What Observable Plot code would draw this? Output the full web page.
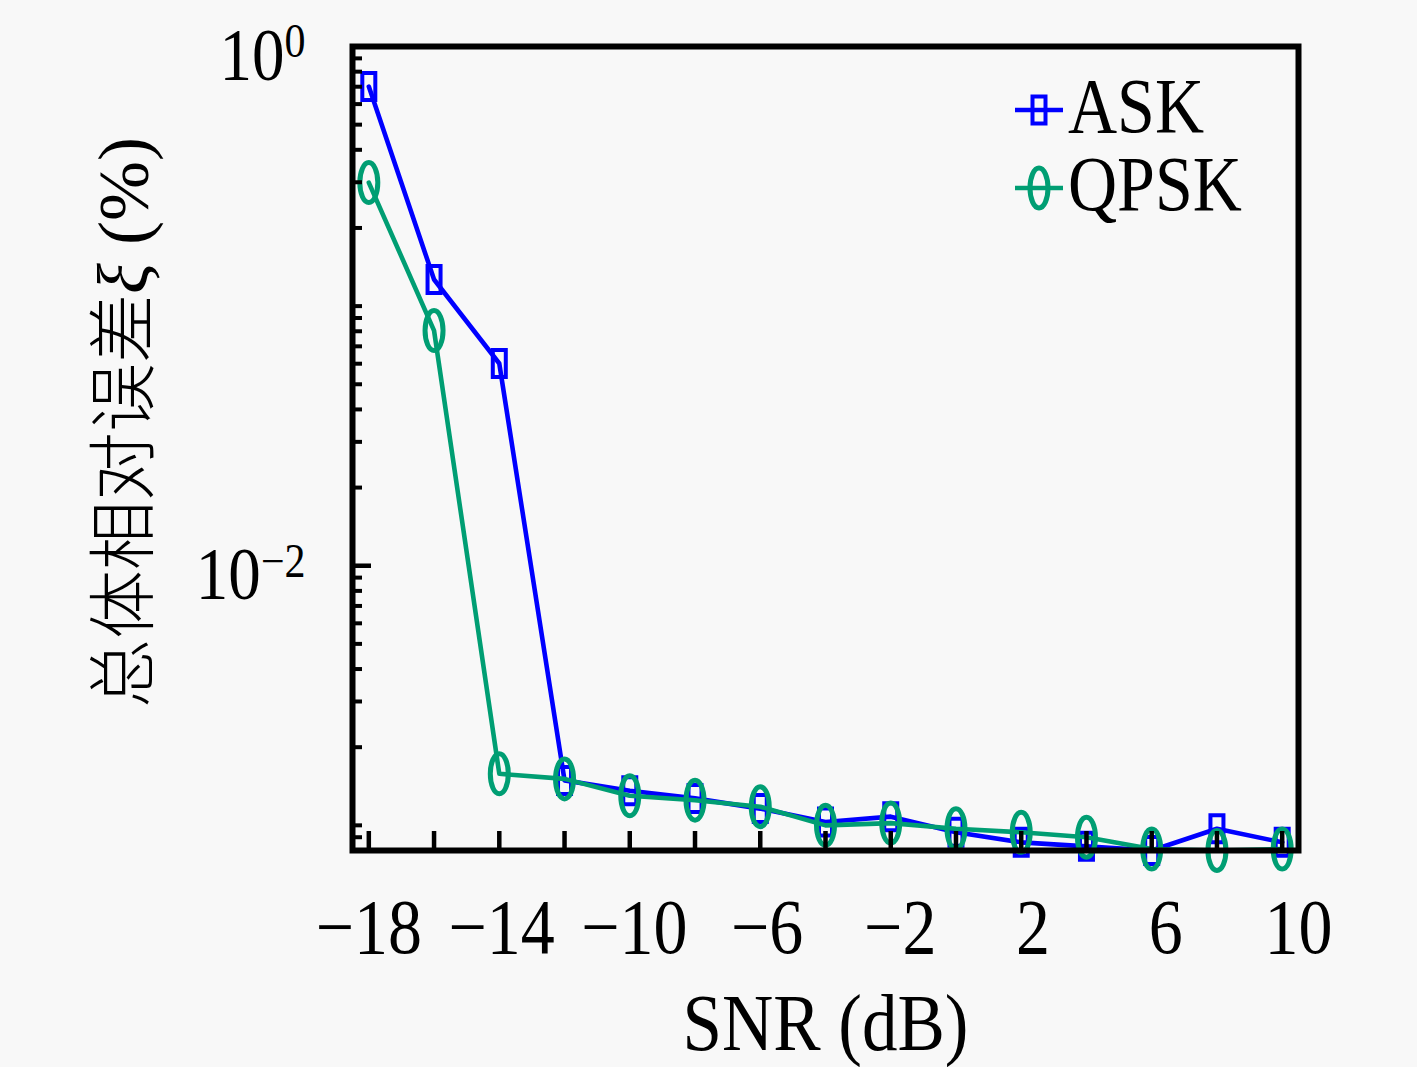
<!DOCTYPE html>
<html><head><meta charset="utf-8">
<script src="https://cdn.jsdelivr.net/npm/d3@7"></script>
<script src="https://cdn.jsdelivr.net/npm/@observablehq/plot@0.6"></script>
<style>
html,body{margin:0;padding:0;background:#f8f8f8;}
#chart{position:relative;width:1417px;height:1067px;}
svg{overflow:visible;}
</style></head><body><div id="chart"></div>
<script>
// ---- data ----
const snr = [-18,-16,-14,-12,-10,-8,-6,-4,-2,0,2,4,6,8,10];
const askErr  = [0.701,0.1266,0.0601,0.00149,0.00136,0.00127,0.00116,0.00103,0.00108,0.00094,0.00086,0.00083,0.00080,0.00097,0.00086];
const qpskErr = [0.299,0.0805,0.00158,0.00151,0.00130,0.00125,0.00118,0.00100,0.00102,0.00097,0.00094,0.00090,0.00081,0.00080,0.00081];
const seriesNames = ["ASK","QPSK"];
const seriesColors = ["#0000ff","#009e73"];
const xTickValues = [-18,-16,-14,-12,-10,-8,-6,-4,-2,0,2,4,6,8,10];
const xTickLabels = [-18,-14,-10,-6,-2,2,6,10];
const xTickLabelPos = [-18,-13.93,-9.86,-5.79,-1.71,2.36,6.43,10.5];
const yMajorTicks = [1,0.01];
const yMajorExponents = ["0","\u22122"];
const yMinorTicks = [0.9,0.8,0.7,0.6,0.5,0.4,0.3,0.2,0.1,0.09,0.08,0.07,0.06,0.05,0.04,0.03,0.02,0.009,0.008,0.007,0.006,0.005,0.004,0.003,0.002,0.001,0.0009];
const xAxisLabel = "SNR (dB)";
const yAxisLabelParts = ["总体相对误差","ξ"," (%)"];

const fmt = v => v < 0 ? "\u2212" + Math.abs(v) : String(v);

// ---- marker symbols ----
const squareSym = {draw(ctx){const w=6.5,h=13.5;ctx.moveTo(-w,-h);ctx.lineTo(w,-h);ctx.lineTo(w,h);ctx.lineTo(-w,h);ctx.closePath();}};
const ellipseSym = {draw(ctx){const rx=9,ry=20,k=0.5523;ctx.moveTo(0,-ry);ctx.bezierCurveTo(k*rx,-ry,rx,-k*ry,rx,0);ctx.bezierCurveTo(rx,k*ry,k*rx,ry,0,ry);ctx.bezierCurveTo(-k*rx,ry,-rx,k*ry,-rx,0);ctx.bezierCurveTo(-rx,-k*ry,-k*rx,-ry,0,-ry);ctx.closePath();}};
const symbols = [squareSym, ellipseSym];
const symbolWidths = [4, 5];

const rows = [askErr, qpskErr].map(arr => snr.map((x,i) => ({x, y: arr[i]})));

const serif = "'Liberation Serif', 'Times New Roman', serif";
const marks = [];
rows.forEach((r,k) => {
  marks.push(Plot.line(r, {x:"x", y:"y", stroke: seriesColors[k], strokeWidth: 4.6}));
  marks.push(Plot.dot(r, {x:"x", y:"y", symbol: symbols[k], stroke: seriesColors[k], strokeWidth: symbolWidths[k], fill: "none"}));
});
marks.push(
  Plot.axisX({ticks: xTickValues, tickSize: -19, tickFormat: () => "", strokeWidth: 4.5, label: null}),
  Plot.text(xTickLabelPos, {x: d => d, frameAnchor: "bottom", lineAnchor: "middle", dy: 78, text: (d,i) => fmt(xTickLabels[i]), fontSize: 68, fontFamily: serif}),
  Plot.axisY({ticks: yMinorTicks, tickSize: -10, tickFormat: () => "", strokeWidth: 4, label: null}),
  Plot.axisY({ticks: yMajorTicks, tickSize: -19, tickFormat: () => "", strokeWidth: 4.5, label: null}),
  Plot.text(yMajorTicks, {y: d => d, frameAnchor: "left", lineAnchor: "middle", dx: -47, dy: 10, textAnchor: "end", text: (d,i) => "10^" + yMajorExponents[i], fontSize: 65, fontFamily: serif}),
  Plot.text([xAxisLabel], {frameAnchor: "bottom", lineAnchor: "middle", textAnchor: "middle", dy: 174, text: d => d, fontSize: 71, fontFamily: serif}),
  Plot.text([yAxisLabelParts.join("")], {frameAnchor: "left", textAnchor: "middle", lineAnchor: "middle", dx: -227, dy: -26, rotate: -90, text: d => d, fontSize: 69, fontFamily: "'Liberation Serif','Noto Sans CJK SC',serif"}),
  Plot.frame({stroke: "black", strokeWidth: 6})
);

const plot = Plot.plot({
  width: 1417, height: 1067,
  marginLeft: 352, marginRight: 119, marginTop: 46, marginBottom: 217,
  style: {background: "transparent", fontFamily: serif, overflow: "visible", color: "black"},
  x: {domain: [-18.5, 10.5]},
  y: {type: "log", domain: [0.0008, 1]},
  marks
});
document.getElementById("chart").appendChild(plot);

const svg = d3.select(plot);
const fullYLabel = yAxisLabelParts.join("");
const stretch = 1.14;
function stretchText(t) {
  const tr = t.attr("transform");
  if (tr != null) {
    if (!tr.includes("rotate")) t.attr("transform", `${tr} scale(1,${stretch})`);
  } else {
    const y = +(t.attr("y") || 0);
    t.attr("transform", `translate(0,${y * (1 - stretch)}) scale(1,${stretch})`);
  }
}
svg.selectAll("text").each(function(){
  const t = d3.select(this);
  const s = t.text();
  if (s.includes("^")) {
    const [base, exp] = s.split("^");
    t.text(null);
    t.append("tspan").text(base);
    t.append("tspan").attr("font-size", 42).attr("dy", -20).text(exp);
    stretchText(t);
  } else if (s === fullYLabel) {
    t.text(null);
    t.append("tspan").attr("font-family", "'Noto Sans CJK SC', sans-serif").attr("font-weight", 300).text(yAxisLabelParts[0]);
    t.append("tspan").attr("font-style", "italic").attr("font-size", 72).text(yAxisLabelParts[1]);
    t.append("tspan").attr("font-size", 72).attr("font-weight", 300).text(yAxisLabelParts[2]);
  } else if (s) {
    stretchText(t);
  }
});
// legend
const legend = svg.append("g").attr("aria-label", "legend");
seriesNames.forEach((name, k) => {
  const g = legend.append("g").attr("transform", `translate(1039,${110 + 78*k})`);
  g.append("line").attr("x1", -24).attr("x2", 24).attr("stroke", seriesColors[k]).attr("stroke-width", 4.6);
  const p = d3.path(); symbols[k].draw(p);
  g.append("path").attr("d", p.toString()).attr("fill", "none").attr("stroke", seriesColors[k]).attr("stroke-width", symbolWidths[k]);
  const t = g.append("text").attr("x", 29).attr("y", 22).attr("text-anchor", "start").attr("font-size", 68).attr("font-family", serif).attr("fill", "black").text(name);
  stretchText(t);
});
</script></body></html>
